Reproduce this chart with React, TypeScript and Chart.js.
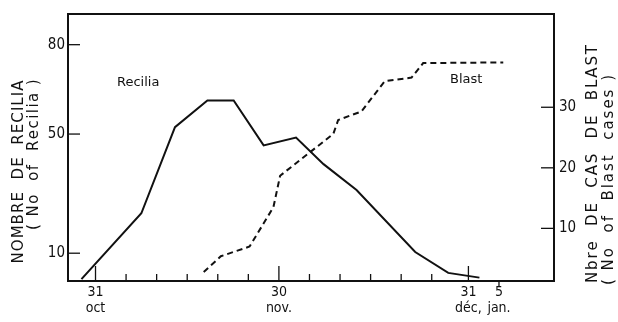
import React, { useEffect, useRef } from "react";
import { Chart, registerables } from "chart.js";

Chart.register(...registerables);

// days counted from 31 October (day 0)
const reciliaDays = [-2.3, 7.5, 13, 18.3, 22.6, 27.5, 32.8, 37.3, 42.7, 52.3, 57.7, 62.8];
const reciliaValues = [1.3, 23.4, 52.3, 61.3, 61.3, 46.2, 48.8, 39.9, 31.2, 10.4, 3.4, 1.8];

const blastDays = [17.7, 20.5, 25.2, 29.1, 30.2, 38.9, 39.7, 43.5, 47.3, 51.7, 53.6, 66.7];
const blastValues = [2.8, 5.4, 7.0, 13.5, 18.7, 25.6, 27.9, 29.3, 34.3, 34.9, 37.3, 37.4];

const xTickValues = [0, 5, 10, 15, 20, 25, 30, 35, 40, 45, 50, 55, 61, 66];
const xTickLabels: Record<number, string[]> = {
  0: ["31", "oct"],
  30: ["30", "nov."],
  61: ["31", "déc,"],
  66: ["5", "jan."],
};
const leftTicks = [10, 50, 80];
const rightTicks = [10, 20, 30];

const leftTitle = ["NOMBRE  DE  RECILIA", "( No  of  Recilia )"];
const rightTitle = ["Nbre  DE  CAS  DE  BLAST", "( No  of  Blast  cases )"];

const INK = "#111";
const FONT = "'DejaVu Sans', sans-serif";
const TICKFONT = "'DejaVu Sans Condensed', 'Liberation Sans Narrow', 'DejaVu Sans', sans-serif";

const framePlugin = {
  id: "frame",
  afterDraw(chart: any) {
    const { ctx, chartArea: a, scales } = chart;
    ctx.save();
    ctx.strokeStyle = INK;
    ctx.fillStyle = INK;
    ctx.lineWidth = 2;
    ctx.strokeRect(a.left, a.top, a.right - a.left, a.bottom - a.top);

    // inner ticks
    ctx.lineWidth = 1.3;
    const x = scales.x;
    x.ticks.forEach((t: any) => {
      const px = x.getPixelForValue(t.value);
      ctx.beginPath();
      if (t.value === 66) {
        ctx.moveTo(px, a.bottom);
        ctx.lineTo(px, a.bottom + 6);
      } else {
        const len = xTickLabels[t.value] ? 15 : 7;
        ctx.moveTo(px, a.bottom);
        ctx.lineTo(px, a.bottom - len);
      }
      ctx.stroke();
    });
    const y = scales.y;
    y.ticks.forEach((t: any) => {
      const py = y.getPixelForValue(t.value);
      ctx.beginPath();
      ctx.moveTo(a.left, py);
      ctx.lineTo(a.left + 12, py);
      ctx.stroke();
    });
    const y1 = scales.y1;
    y1.ticks.forEach((t: any) => {
      const py = y1.getPixelForValue(t.value);
      ctx.beginPath();
      ctx.moveTo(a.right, py);
      ctx.lineTo(a.right - 13, py);
      ctx.stroke();
    });

    // axis titles, spread to the reference lengths
    ctx.font = `15px ${FONT}`;
    ctx.textAlign = "left";
    ctx.textBaseline = "middle";
    const drawRot = (text: string, cx: number, cy: number, len: number) => {
      const chars = Array.from(text);
      const natural = ctx.measureText(text).width;
      const gap = (len - natural) / Math.max(1, chars.length - 1);
      ctx.save();
      ctx.translate(cx, cy);
      ctx.rotate(-Math.PI / 2);
      let pos = -len / 2;
      chars.forEach((c) => {
        ctx.fillText(c, pos, 0);
        pos += ctx.measureText(c).width + gap;
      });
      ctx.restore();
    };
    drawRot(leftTitle[0], 19, 172, 183);
    drawRot(leftTitle[1], 34, 155, 150);
    drawRot(rightTitle[0], 593, 164, 238);
    drawRot(rightTitle[1], 609, 180, 210);

    // series labels
    ctx.font = `13px ${FONT}`;
    ctx.fillText("Recilia", 117, 83);
    ctx.fillText("Blast", 450, 80);
    ctx.restore();
  },
};

export default function App() {
  const ref = useRef<HTMLCanvasElement>(null);
  useEffect(() => {
    if (!ref.current) return;
    const chart = new Chart(ref.current, {
      type: "line",
      data: {
        datasets: [
          {
            label: "Recilia",
            data: reciliaDays.map((d, i) => ({ x: d, y: reciliaValues[i] })),
            borderColor: INK,
            borderWidth: 2,
            pointRadius: 0,
            tension: 0,
            yAxisID: "y",
          },
          {
            label: "Blast",
            data: blastDays.map((d, i) => ({ x: d, y: blastValues[i] })),
            borderColor: INK,
            borderWidth: 2,
            borderDash: [6, 4],
            pointRadius: 0,
            tension: 0,
            yAxisID: "y1",
          },
        ],
      },
      options: {
        animation: false,
        responsive: false,
        layout: { padding: { top: 12, left: 0, right: 0, bottom: 0 } },
        plugins: { legend: { display: false }, tooltip: { enabled: false } },
        scales: {
          x: {
            type: "linear",
            min: -4.5,
            max: 75,
            grid: { display: false, drawTicks: false },
            border: { display: false },
            afterBuildTicks: (s: any) => {
              s.ticks = xTickValues.map((v) => ({ value: v }));
            },
            afterFit: (s: any) => {
              s.height = 41;
            },
            ticks: {
              autoSkip: false,
              maxRotation: 0,
              padding: 4,
              color: INK,
              font: { family: TICKFONT, size: 14, lineHeight: 1.1 },
              callback: (v: any) => xTickLabels[v] || "",
            },
          },
          y: {
            type: "linear",
            position: "left",
            min: 0.67,
            max: 90.3,
            grid: { display: false, drawTicks: false },
            border: { display: false },
            afterBuildTicks: (s: any) => {
              s.ticks = leftTicks.map((v) => ({ value: v }));
            },
            afterFit: (s: any) => {
              s.width = 68;
            },
            ticks: {
              padding: 3,
              color: INK,
              font: { family: TICKFONT, size: 15 },
            },
          },
          y1: {
            type: "linear",
            position: "right",
            min: 1.31,
            max: 45.4,
            grid: { display: false, drawTicks: false },
            border: { display: false },
            afterBuildTicks: (s: any) => {
              s.ticks = rightTicks.map((v) => ({ value: v }));
            },
            afterFit: (s: any) => {
              s.width = 64;
            },
            ticks: {
              padding: 5,
              color: INK,
              font: { family: TICKFONT, size: 15 },
            },
          },
        },
      },
      plugins: [framePlugin],
    });
    return () => chart.destroy();
  }, []);
  return (
    <div style={{ position: "absolute", left: 0, top: 0, width: 618, height: 322, background: "#fff" }}>
      <canvas ref={ref} width={618} height={322} style={{ display: "block" }} />
    </div>
  );
}
